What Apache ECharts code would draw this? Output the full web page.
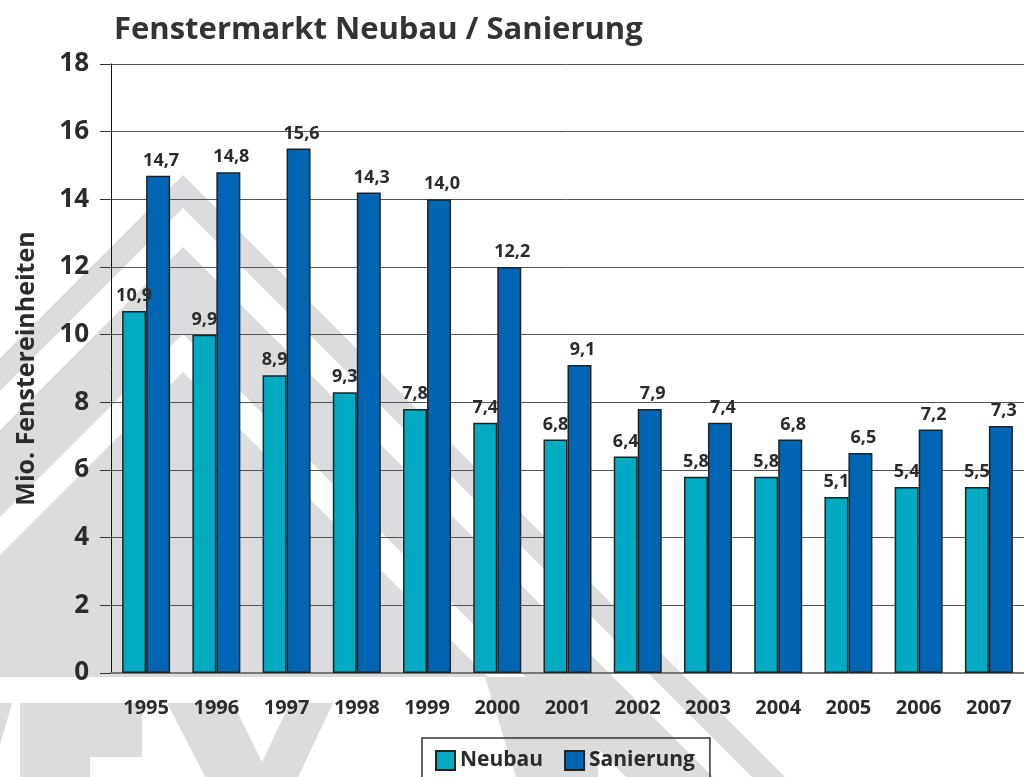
<!DOCTYPE html>
<html>
<head>
<meta charset="utf-8">
<script src="https://cdn.jsdelivr.net/npm/echarts@6/dist/echarts.min.js"></script>
<style>
  html, body { margin: 0; padding: 0; background: #fff; }
  #chart { width: 1024px; height: 777px; }
</style>
</head>
<body>
<div id="chart"></div>
<script>
// values (bar heights) and the printed labels
const years = ['1995', '1996', '1997', '1998', '1999', '2000', '2001', '2002', '2003', '2004', '2005', '2006', '2007'];
const neubau = [10.7, 10.0, 8.8, 8.3, 7.8, 7.4, 6.9, 6.4, 5.8, 5.8, 5.2, 5.5, 5.5];
const sanierung = [14.7, 14.8, 15.5, 14.2, 14.0, 12.0, 9.1, 7.8, 7.4, 6.9, 6.5, 7.2, 7.3];
const neubauLabels = ['10,9', '9,9', '8,9', '9,3', '7,8', '7,4', '6,8', '6,4', '5,8', '5,8', '5,1', '5,4', '5,5'];
const sanierungLabels = ['14,7', '14,8', '15,6', '14,3', '14,0', '12,2', '9,1', '7,9', '7,4', '6,8', '6,5', '7,2', '7,3'];

const font = 'Open Sans';
const ink = '#2b2b2b';
const grey = '#dcdcde';

// background logo (roof stripes and letters)
const watermark = [
  [[-10, 368], [183, 175], [808, 800], [775, 800], [183, 208], [-10, 401]],
  [[-10, 440], [183, 247], [736, 800], [649, 800], [183, 334], [-10, 527]],
  [[-10, 565], [183, 372], [488, 677], [-10, 677]],
  [[0, 703], [12, 703], [0, 745]],
  [[20, 703], [142, 703], [142, 757], [90, 757], [90, 790], [20, 790]],
  [[167, 703], [233, 703], [262, 762], [290, 703], [333, 703], [292, 790], [212, 790]],
  [[485, 677], [598, 677], [598, 790], [520, 790]]
];

const chart = echarts.init(document.getElementById('chart'));

chart.setOption({
  backgroundColor: '#fff',
  animation: false,
  textStyle: { fontFamily: font },
  title: {
    text: 'Fenstermarkt Neubau / Sanierung',
    left: 114, top: 15, padding: 0,
    textStyle: { fontSize: 31, fontWeight: 'bold', color: '#333', fontFamily: font }
  },
  graphic: watermark.map(pts => ({
    type: 'polygon', z: -10, silent: true,
    shape: { points: pts },
    style: { fill: grey }
  })),
  legend: {
    left: 422, top: 738,
    icon: 'rect', itemWidth: 19, itemHeight: 19, itemGap: 21,
    padding: [12, 15, 30, 13],
    borderColor: '#333', borderWidth: 1.5,
    textStyle: { fontSize: 21, fontWeight: 'bold', color: ink, fontFamily: font }
  },
  grid: { left: 111, top: 64, width: 920, height: 609 },
  xAxis: {
    type: 'category', data: years,
    axisLine: { lineStyle: { color: '#777', width: 2 } },
    axisTick: { length: 7, lineStyle: { color: '#444' } },
    axisLabel: { margin: 25, fontSize: 20, fontWeight: 'bold', color: ink, fontFamily: font }
  },
  yAxis: {
    type: 'value', min: 0, max: 18, interval: 2,
    name: 'Mio. Fenstereinheiten', nameLocation: 'middle', nameGap: 72,
    nameTextStyle: { fontSize: 25, fontWeight: 'bold', color: ink, fontFamily: font },
    axisLine: { show: true, lineStyle: { color: '#111', width: 1 } },
    axisTick: { show: true, length: 11, lineStyle: { color: '#333' } },
    axisLabel: { margin: 22, fontSize: 26, fontWeight: 'bold', color: ink, fontFamily: font },
    splitLine: { lineStyle: { color: '#555', width: 1 } }
  },
  series: [
    {
      name: 'Neubau', type: 'bar', data: neubau,
      barWidth: 24, barGap: '0%',
      itemStyle: { color: '#00aac3', borderColor: '#222', borderWidth: 1.5 },
      label: {
        show: true, position: 'top', distance: 6,
        formatter: p => neubauLabels[p.dataIndex],
        fontSize: 18, fontWeight: 'bold', color: ink, fontFamily: font
      }
    },
    {
      name: 'Sanierung', type: 'bar', data: sanierung,
      barWidth: 24,
      itemStyle: { color: '#0066b4', borderColor: '#222', borderWidth: 1.5 },
      label: {
        show: true, position: 'top', distance: 6, offset: [3, 0],
        formatter: p => sanierungLabels[p.dataIndex],
        fontSize: 18, fontWeight: 'bold', color: ink, fontFamily: font
      }
    }
  ]
});
</script>
</body>
</html>
